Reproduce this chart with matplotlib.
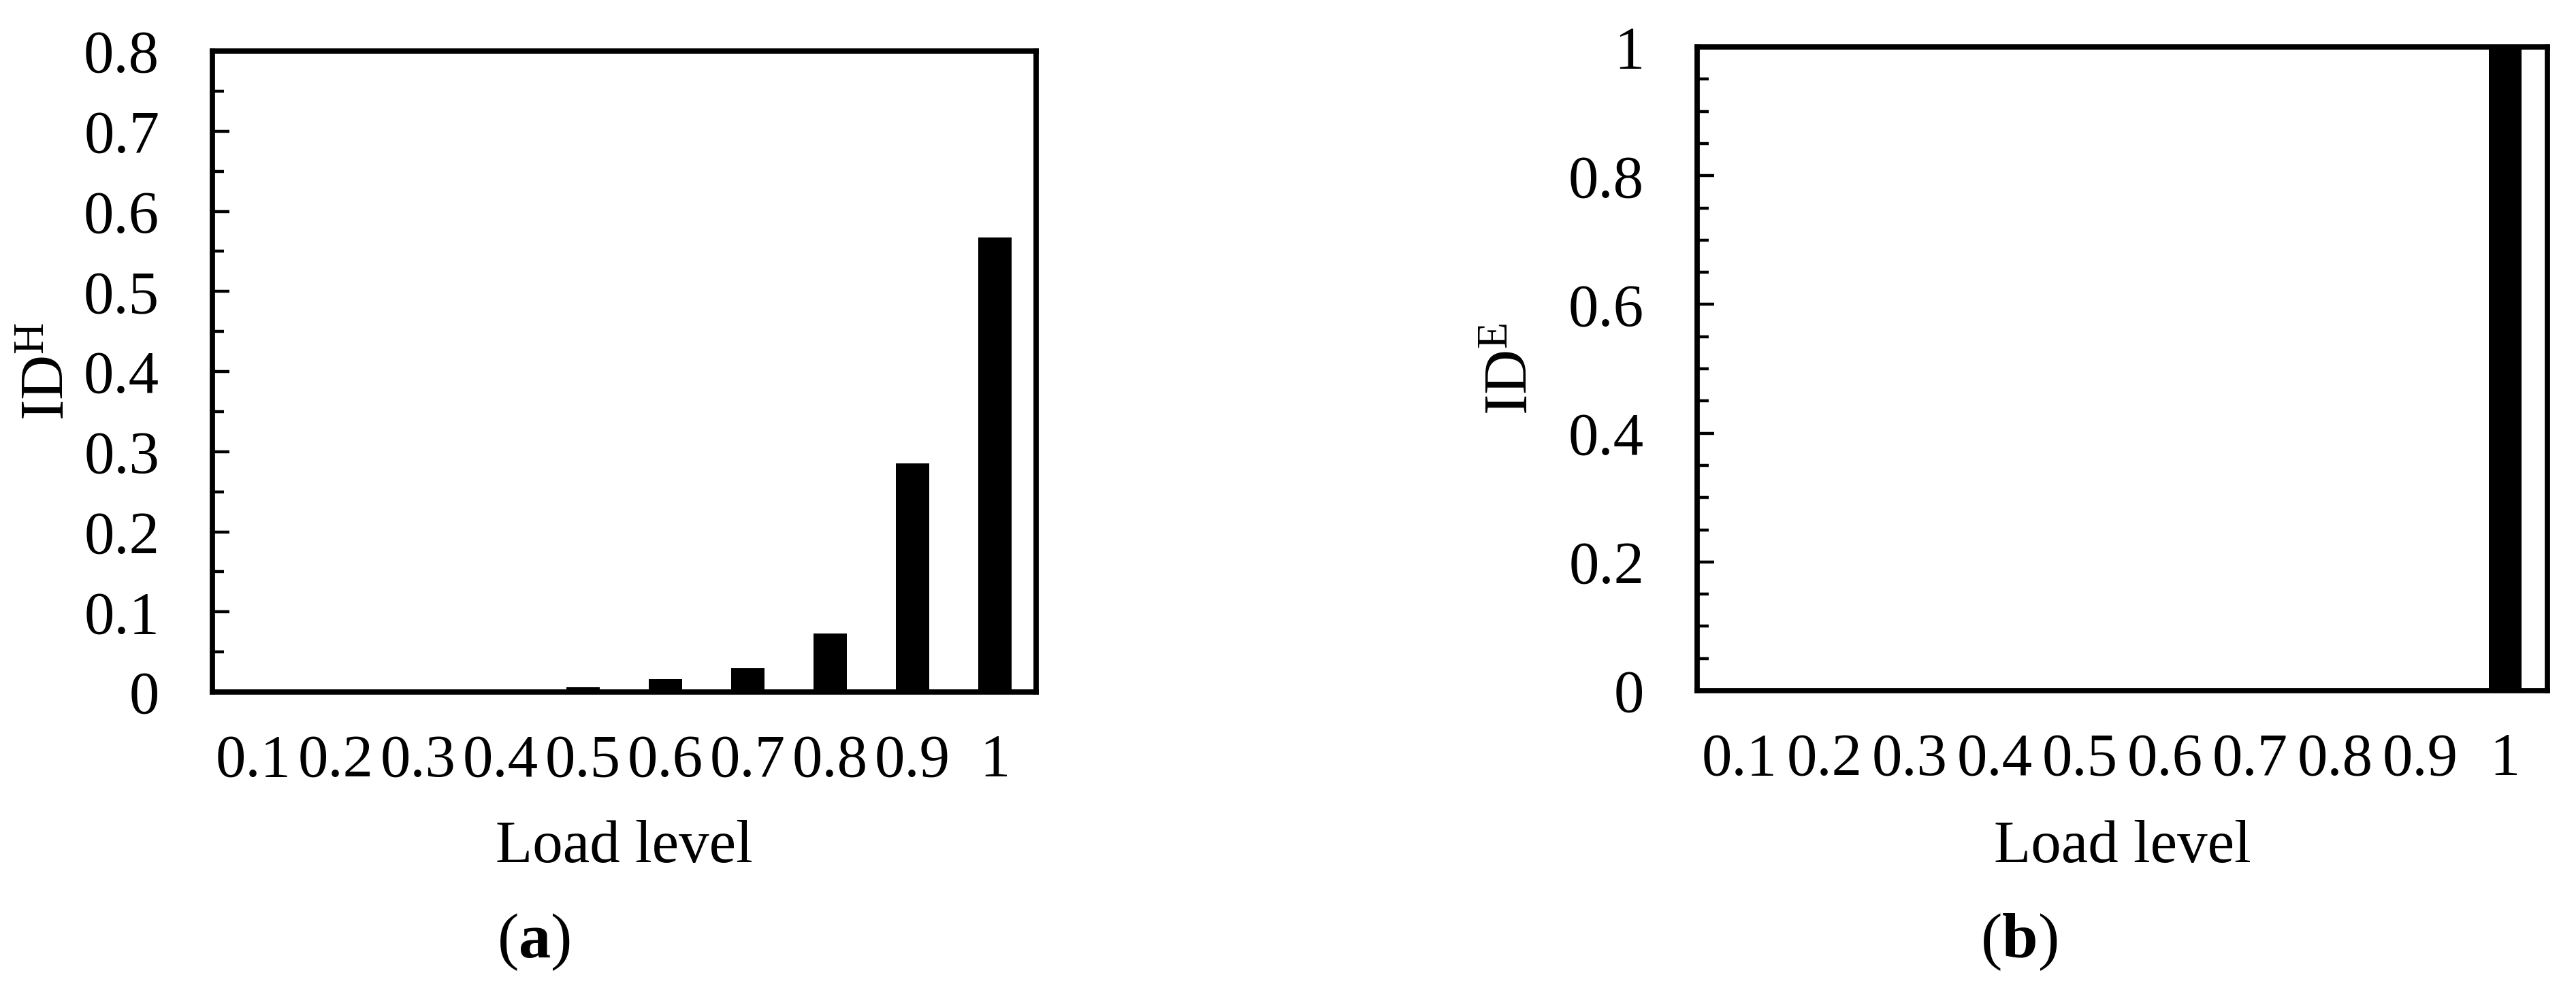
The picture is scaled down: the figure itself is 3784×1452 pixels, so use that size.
import numpy as np
import matplotlib
matplotlib.use("Agg")
import matplotlib.pyplot as plt
from matplotlib.ticker import MultipleLocator, FuncFormatter

plt.rcParams['font.family'] = ['Liberation Serif', 'DejaVu Serif']
plt.rcParams['mathtext.fontset'] = 'custom'
plt.rcParams['mathtext.rm'] = 'Liberation Serif'
plt.rcParams['mathtext.bf'] = 'Liberation Serif:bold'
plt.rcParams['mathtext.it'] = 'Liberation Serif:italic'

# donnees
load_levels = ['0.1', '0.2', '0.3', '0.4', '0.5', '0.6', '0.7', '0.8', '0.9', '1']
id_h = [0, 0, 0, 0, 0.006, 0.016, 0.030, 0.073, 0.285, 0.567]
id_e = [0, 0, 0, 0, 0, 0, 0, 0, 0, 1.0]

fs = 32
W, H = 3784, 1452
fig = plt.figure(figsize=(W / 200, H / 200), dpi=200)


def panneau(rect, valeurs, ymax, ymaj, ylabel, xlab_y, largeur):
    ax = fig.add_axes(rect)
    x = np.arange(len(load_levels))
    ax.bar(x, valeurs, width=largeur, color='black', edgecolor='none')
    ax.set_xlim(-0.5, len(load_levels) - 0.5)
    ax.set_ylim(0, ymax)
    ax.set_xticks(x)
    ax.set_xticklabels(load_levels, fontsize=fs)
    ax.yaxis.set_major_locator(MultipleLocator(ymaj))
    ax.yaxis.set_minor_locator(MultipleLocator(0.05))
    ax.yaxis.set_major_formatter(FuncFormatter(lambda v, p: '%g' % round(v, 2)))
    ax.tick_params(axis='x', length=0, pad=22, labelsize=fs)
    ax.tick_params(axis='y', which='major', direction='in', length=9, width=1.6,
                   pad=28, labelsize=fs)
    ax.tick_params(axis='y', which='minor', direction='in', length=6, width=1.6)
    for s in ax.spines.values():
        s.set_linewidth(2.8)
    ax.set_xlabel('Load level', fontsize=fs)
    ax.xaxis.label.set_va('center')
    ax.xaxis.set_label_coords(0.5, xlab_y)
    ax.set_ylabel(ylabel, fontsize=fs + 1)
    ax.yaxis.label.set_va('center')
    return ax


# (a)
ax1 = panneau([312 / W, 1 - 1017 / H, 1210 / W, 942 / H], id_h, 0.8, 0.1,
              r'ID$^{\mathrm{H}}$', -(1246 - 1017) / 942, 0.4)
ax1.yaxis.set_label_coords((72 - 312) / 1210, 0.5)

# (b)
ax2 = panneau([2493 / W, 1 - 1015 / H, 1249 / W, 946 / H], id_e, 1.0, 0.2,
              r'ID$^{\mathrm{E}}$', -(1246 - 1015) / 946, 0.385)
ax2.yaxis.set_label_coords((2222 - 2493) / 1249, 0.5)

fig.text(784 / W, 1 - 1385 / H, r'($\mathbf{a}$)', fontsize=fs + 2,
         ha='center', va='center')
fig.text(2966 / W, 1 - 1385 / H, r'($\mathbf{b}$)', fontsize=fs + 2,
         ha='center', va='center')

fig.savefig('out.png', dpi=200, facecolor='white')
